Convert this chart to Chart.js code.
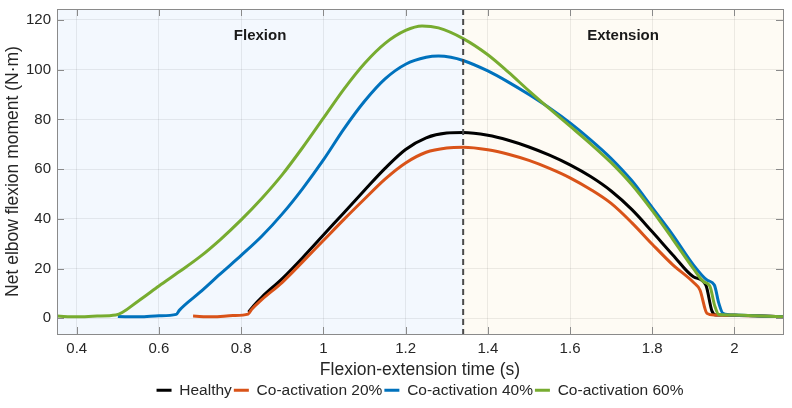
<!DOCTYPE html>
<html>
<head>
<meta charset="utf-8">
<script src="https://cdn.jsdelivr.net/npm/chart.js@4.4.1/dist/chart.umd.min.js"></script>
<style>
  html, body { margin: 0; padding: 0; background: #fff; }
  #wrap { width: 792px; height: 408px; }
</style>
</head>
<body>
<div id="wrap"><canvas id="moment" width="792" height="408"></canvas></div>
<script>
"use strict";

// time (s) and net elbow flexion moment (N·m) for each condition
const healthyT = [0.818, 0.83, 0.85, 0.9, 0.95, 1.0, 1.05, 1.1, 1.15, 1.2, 1.25, 1.3, 1.34, 1.4, 1.45, 1.5, 1.55, 1.6, 1.65, 1.7, 1.75, 1.8, 1.85, 1.9, 1.93, 1.945, 1.955, 1.97, 2.0, 2.05, 2.1, 2.118];
const healthyM = [2.5, 5, 8.5, 16, 24.5, 33.5, 42.5, 51.5, 60.3, 67.9, 72.6, 74.5, 74.7, 73.6, 71.6, 68.9, 65.6, 61.7, 57, 51.2, 43.8, 34.8, 25.5, 16.7, 13.5, 3, 1.3, 1.3, 1.2, 1.0, 0.7, 0.6];

const co20T = [0.683, 0.73, 0.78, 0.817, 0.825, 0.85, 0.9, 0.95, 1.0, 1.05, 1.1, 1.15, 1.2, 1.25, 1.3, 1.34, 1.4, 1.45, 1.5, 1.55, 1.6, 1.65, 1.7, 1.75, 1.8, 1.85, 1.9, 1.916, 1.933, 1.95, 1.97, 2.0, 2.05, 2.1, 2.118];
const co20M = [0.9, 0.6, 1.1, 1.7, 3.5, 7.5, 14.5, 22.8, 31.3, 39.8, 48, 56, 62.5, 66.8, 68.5, 68.8, 67.8, 66, 63.5, 60.3, 56.5, 51.8, 46.2, 38.5, 29.8, 21.5, 14.5, 11.4, 2, 1.3, 1.3, 1.2, 1.0, 0.7, 0.6];

const co40T = [0.5, 0.553, 0.6, 0.642, 0.65, 0.7, 0.75, 0.8, 0.85, 0.9, 0.95, 1.0, 1.05, 1.1, 1.15, 1.2, 1.25, 1.28, 1.31, 1.34, 1.4, 1.45, 1.5, 1.55, 1.6, 1.65, 1.7, 1.75, 1.8, 1.85, 1.9, 1.933, 1.951, 1.962, 1.972, 2.0, 2.05, 2.1, 2.118];
const co40M = [0.7, 0.6, 1.0, 1.6, 3.3, 10.5, 18, 25.3, 33, 42, 52.3, 63.7, 76.2, 87.3, 96.3, 102.2, 105, 105.5, 105, 103.7, 99.5, 95, 90, 84.6, 78.6, 71.8, 64.3, 55.4, 44.5, 33.5, 21.5, 15.4, 13.4, 6, 2, 1.3, 1.0, 0.7, 0.6];

const co60T = [0.352, 0.4, 0.45, 0.495, 0.55, 0.6, 0.65, 0.7, 0.75, 0.8, 0.85, 0.9, 0.95, 1.0, 1.05, 1.1, 1.15, 1.2, 1.24, 1.28, 1.34, 1.4, 1.45, 1.5, 1.55, 1.6, 1.65, 1.7, 1.75, 1.8, 1.85, 1.9, 1.925, 1.94, 1.952, 1.962, 2.0, 2.05, 2.1, 2.118];
const co60M = [0.9, 0.6, 0.9, 1.3, 7, 13, 18.8, 24.8, 31.8, 39.6, 48.2, 57.8, 68.8, 80.5, 92.2, 102.5, 110.6, 115.8, 117.6, 116.8, 112.5, 106, 99, 91.5, 84.3, 77.3, 70.2, 62.6, 53.8, 43.3, 31.8, 20, 14.7, 13, 5, 1.5, 1.3, 1.0, 0.7, 0.6];

const seriesNames = ["Healthy", "Co-activation 20%", "Co-activation 40%", "Co-activation 60%"];
const xTicks = [0.4, 0.6, 0.8, 1, 1.2, 1.4, 1.6, 1.8, 2];
const yTicks = [0, 20, 40, 60, 80, 100, 120];
const phaseSplit = 1.34;   // end of flexion
const phaseNames = ["Flexion", "Extension"];

const FONT = "'Liberation Sans', Arial, Helvetica, sans-serif";
const colors = ["#000000", "#D95319", "#0072BD", "#77AC30"];

const pts = (t, m) => t.map((v, i) => ({ x: v, y: m[i] }));
const series = [pts(healthyT, healthyM), pts(co20T, co20M), pts(co40T, co40M), pts(co60T, co60M)];

// shaded phases, dashed split line, MATLAB-like box with inward ticks
const phasePlugin = {
    id: "phases",
    beforeDraw(chart) {
        const { ctx, chartArea: a, scales: { x } } = chart;
        const xs = x.getPixelForValue(phaseSplit);
        ctx.save();
        ctx.fillStyle = "#F3F8FE";
        ctx.fillRect(a.left, a.top, xs - a.left, a.bottom - a.top);
        ctx.fillStyle = "#FEFBF4";
        ctx.fillRect(xs, a.top, a.right - xs, a.bottom - a.top);
        ctx.restore();
    },
    afterDatasetsDraw(chart) {
        const { ctx, chartArea: a, scales: { x, y } } = chart;
        const xs = x.getPixelForValue(phaseSplit);
        ctx.save();

        ctx.strokeStyle = "#4a4a4a";
        ctx.lineWidth = 2;
        ctx.setLineDash([6, 4]);
        ctx.beginPath();
        ctx.moveTo(xs, a.top);
        ctx.lineTo(xs, a.bottom);
        ctx.stroke();
        ctx.setLineDash([]);

        ctx.strokeStyle = "#8a8a8a";
        ctx.lineWidth = 1;
        ctx.beginPath();
        xTicks.forEach(v => {
            const px = Math.round(x.getPixelForValue(v)) + 0.5;
            ctx.moveTo(px, a.bottom); ctx.lineTo(px, a.bottom - 7);
            ctx.moveTo(px, a.top); ctx.lineTo(px, a.top + 7);
        });
        yTicks.forEach(v => {
            const py = Math.round(y.getPixelForValue(v)) + 0.5;
            ctx.moveTo(a.left, py); ctx.lineTo(a.left + 7, py);
            ctx.moveTo(a.right, py); ctx.lineTo(a.right - 7, py);
        });
        ctx.stroke();
        ctx.strokeRect(Math.round(a.left) + 0.5, Math.round(a.top) + 0.5,
            Math.round(a.right - a.left), Math.round(a.bottom - a.top));

        ctx.fillStyle = "#1a1a1a";
        ctx.font = "bold 15px " + FONT;
        ctx.textAlign = "center";
        ctx.textBaseline = "middle";
        ctx.fillText(phaseNames[0], (a.left + xs) / 2, a.top + 27);
        ctx.fillText(phaseNames[1], (xs + a.right) / 2, a.top + 27);
        ctx.restore();
    }
};

const ctx = document.getElementById("moment").getContext("2d");

new Chart(ctx, {
    type: "line",
    data: {
        datasets: series.map((d, i) => ({
            label: seriesNames[i],
            data: d,
            borderColor: colors[i],
            backgroundColor: colors[i],
            borderWidth: 3,
            pointRadius: 0,
            fill: false,
            cubicInterpolationMode: "monotone",
            order: 3 - i
        }))
    },
    options: {
        responsive: false,
        animation: false,
        devicePixelRatio: 1,
        layout: { padding: { top: 9, right: 9, left: 0, bottom: 0 } },
        plugins: {
            tooltip: { enabled: false },
            legend: {
                position: "bottom",
                fullSize: false,
                labels: {
                    color: "#262626",
                    font: { family: FONT, size: 15.5 },
                    boxWidth: 15,
                    boxHeight: 3,
                    padding: 2,
                    sort: (a, b) => a.datasetIndex - b.datasetIndex,
                    generateLabels(chart) {
                        return Chart.defaults.plugins.legend.labels.generateLabels(chart)
                            .map(l => Object.assign(l, { lineWidth: 0 }));
                    }
                }
            }
        },
        scales: {
            x: {
                type: "linear",
                min: 0.352,
                max: 2.118,
                bounds: "data",
                afterBuildTicks: s => { s.ticks = xTicks.map(v => ({ value: v })); },
                afterFit: s => { s.height = 46.5; s.paddingLeft = 0; s.paddingRight = 0; },
                grid: { color: "rgba(0,0,0,0.07)", drawTicks: false },
                border: { display: false },
                ticks: {
                    color: "#262626",
                    padding: 6,
                    maxRotation: 0,
                    font: { family: FONT, size: 15 },
                    callback: v => String(+v.toFixed(2))
                },
                title: {
                    display: true,
                    text: "Flexion-extension time (s)",
                    color: "#262626",
                    font: { family: FONT, size: 17.5 },
                    padding: { top: 0, bottom: 0 }
                }
            },
            y: {
                type: "linear",
                min: -6.3,
                max: 124.4,
                bounds: "data",
                afterBuildTicks: s => { s.ticks = yTicks.map(v => ({ value: v })); },
                afterFit: s => { s.width = 57; s.paddingTop = 0; s.paddingBottom = 0; },
                grid: { color: "rgba(0,0,0,0.07)", drawTicks: false },
                border: { display: false },
                ticks: {
                    color: "#262626",
                    padding: 6,
                    font: { family: FONT, size: 15 }
                },
                title: {
                    display: true,
                    text: "Net elbow flexion moment (N·m)",
                    color: "#262626",
                    font: { family: FONT, size: 17.5 },
                    padding: { top: 3, bottom: 0 }
                }
            }
        }
    },
    plugins: [phasePlugin]
});
</script>
</body>
</html>
